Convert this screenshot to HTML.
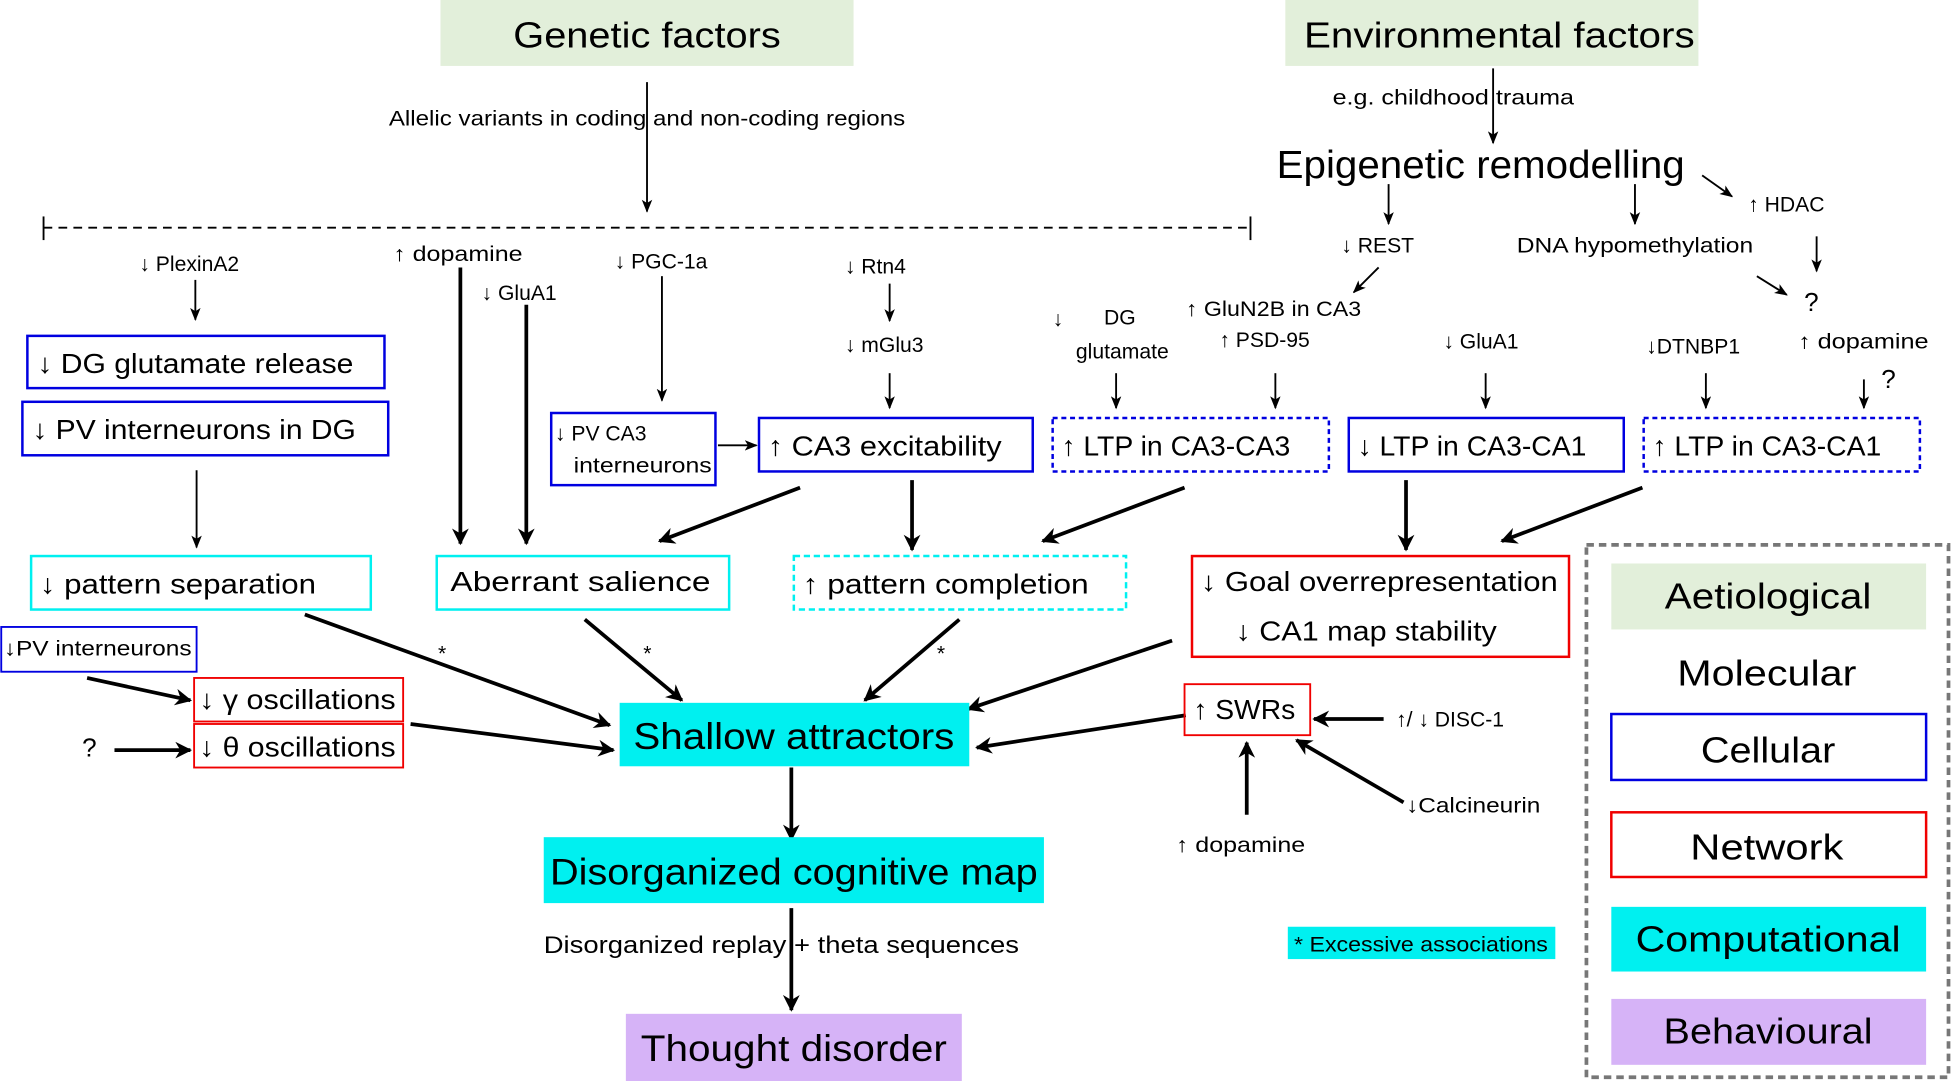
<!DOCTYPE html>
<html><head><meta charset="utf-8"><style>
html,body{margin:0;padding:0;background:#fff;}
svg{display:block;}
text{font-family:"Liberation Sans","DejaVu Sans",sans-serif;fill:#000;}
</style></head><body>
<svg width="1951" height="1081" viewBox="0 0 1568 869" preserveAspectRatio="none" xmlns="http://www.w3.org/2000/svg">
<defs>
<marker id="a" viewBox="0 0 10 10" refX="9" refY="5" markerWidth="7" markerHeight="7" orient="auto" markerUnits="userSpaceOnUse"><path d="M0,0 L10,5 L0,10 Z"/></marker>
<marker id="b" viewBox="0 0 10 10" refX="9" refY="5" markerWidth="7" markerHeight="7" orient="auto"><path d="M0,1 L10,5 L0,9 L2.5,5 Z"/></marker>
<marker id="c" viewBox="0 0 10 10" refX="9" refY="5" markerWidth="4.5" markerHeight="4.5" orient="auto"><path d="M0,0 L10,5 L0,10 L3,5 Z"/></marker>
</defs>
<!-- top boxes -->
<rect x="354" y="0" width="332" height="53" fill="#e2efda"/>
<text x="520" y="38" font-size="29" text-anchor="middle" textLength="215" lengthAdjust="spacingAndGlyphs">Genetic factors</text>
<rect x="1033" y="0" width="332" height="53" fill="#e2efda"/>
<text x="1205" y="38" font-size="29" text-anchor="middle" textLength="314" lengthAdjust="spacingAndGlyphs">Environmental factors</text>
<g stroke="#000" stroke-width="1.5" fill="none">
<line x1="520" y1="66" x2="520" y2="170" marker-end="url(#b)"/>
<line x1="1200" y1="55" x2="1200" y2="115" marker-end="url(#b)"/>
<line x1="35" y1="183" x2="1005" y2="183" stroke-dasharray="7,5"/>
<line x1="35" y1="174" x2="35" y2="193"/><line x1="1005" y1="174" x2="1005" y2="193"/>
<line x1="1116" y1="148" x2="1116" y2="180" marker-end="url(#b)"/>
<line x1="1314" y1="148" x2="1314" y2="180" marker-end="url(#b)"/>
<line x1="1368" y1="141" x2="1392" y2="158" marker-end="url(#b)"/>
<line x1="1460" y1="190" x2="1460" y2="218" marker-end="url(#b)"/>
<line x1="1412" y1="222" x2="1436" y2="237" marker-end="url(#b)"/>
<line x1="1108" y1="215" x2="1088" y2="235" marker-end="url(#b)"/>
<line x1="1498" y1="305" x2="1498" y2="328" marker-end="url(#b)"/>
<line x1="897" y1="300" x2="897" y2="328" marker-end="url(#b)"/>
<line x1="1025" y1="300" x2="1025" y2="328" marker-end="url(#b)"/>
<line x1="1194" y1="300" x2="1194" y2="328" marker-end="url(#b)"/>
<line x1="1371" y1="300" x2="1371" y2="328" marker-end="url(#b)"/>
<line x1="157" y1="225" x2="157" y2="257" marker-end="url(#b)"/>
<line x1="158" y1="378" x2="158" y2="440" marker-end="url(#b)"/>
<line x1="532" y1="222" x2="532" y2="322" marker-end="url(#b)"/>
<line x1="715" y1="228" x2="715" y2="258" marker-end="url(#b)"/>
<line x1="715" y1="300" x2="715" y2="328" marker-end="url(#b)"/>
<line x1="577" y1="358" x2="608" y2="358" marker-end="url(#b)"/>
</g>
<g stroke="#000" stroke-width="3" fill="none">
<line x1="370" y1="215" x2="370" y2="437" marker-end="url(#c)"/>
<line x1="423" y1="245" x2="423" y2="437" marker-end="url(#c)"/>
<line x1="643" y1="392" x2="530" y2="435" marker-end="url(#c)"/>
<line x1="733" y1="386" x2="733" y2="442" marker-end="url(#c)"/>
<line x1="952" y1="392" x2="838" y2="435" marker-end="url(#c)"/>
<line x1="1130" y1="386" x2="1130" y2="442" marker-end="url(#c)"/>
<line x1="1320" y1="392" x2="1207" y2="435" marker-end="url(#c)"/>
<line x1="245" y1="494" x2="490" y2="583" marker-end="url(#c)"/>
<line x1="470" y1="498" x2="548" y2="563" marker-end="url(#c)"/>
<line x1="771" y1="498" x2="695" y2="563" marker-end="url(#c)"/>
<line x1="942" y1="515" x2="778" y2="570" marker-end="url(#c)"/>
<line x1="953" y1="575" x2="785" y2="601" marker-end="url(#c)"/>
<line x1="330" y1="582" x2="493" y2="603" marker-end="url(#c)"/>
<line x1="70" y1="545" x2="153" y2="563" marker-end="url(#c)"/>
<line x1="92" y1="603" x2="153" y2="603" marker-end="url(#c)"/>
<line x1="1112" y1="578" x2="1056" y2="578" marker-end="url(#c)"/>
<line x1="1128" y1="645" x2="1042" y2="595" marker-end="url(#c)"/>
<line x1="1002" y1="655" x2="1002" y2="597" marker-end="url(#c)"/>
<line x1="636" y1="617" x2="636" y2="675" marker-end="url(#c)"/>
<line x1="636" y1="730" x2="636" y2="812" marker-end="url(#c)"/>
</g>
<!-- small texts -->
<g font-size="17">
<text x="520" y="101" text-anchor="middle" textLength="415" lengthAdjust="spacingAndGlyphs">Allelic variants in coding and non-coding regions</text>
<text x="1168" y="84" text-anchor="middle" textLength="194" lengthAdjust="spacingAndGlyphs">e.g.  childhood trauma</text>
<text x="1405" y="170">↑ HDAC</text>
<text x="1450" y="250" font-size="21">?</text>
<text x="1078" y="203">↓ REST</text>
<text x="1314" y="203" text-anchor="middle" textLength="190" lengthAdjust="spacingAndGlyphs">DNA hypomethylation</text>
<text x="953" y="254" textLength="141" lengthAdjust="spacingAndGlyphs">↑ GluN2B in CA3</text>
<text x="980" y="279">↑ PSD-95</text>
<text x="846" y="262">↓</text><text x="900" y="261" text-anchor="middle">DG</text>
<text x="902" y="288" text-anchor="middle">glutamate</text>
<text x="1160" y="280">↓ GluA1</text>
<text x="1323" y="284">↓DTNBP1</text>
<text x="1445" y="280" textLength="105" lengthAdjust="spacingAndGlyphs">↑ dopamine</text>
<text x="1512" y="312" font-size="21">?</text>
<text x="112" y="218">↓ PlexinA2</text>
<text x="316" y="210" textLength="104" lengthAdjust="spacingAndGlyphs">↑ dopamine</text>
<text x="387" y="241">↓ GluA1</text>
<text x="494" y="216">↓ PGC-1a</text>
<text x="679" y="220">↓ Rtn4</text>
<text x="679" y="283">↓ mGlu3</text>
<text x="1122" y="584">↑/ ↓ DISC-1</text>
<text x="1130" y="653" textLength="108" lengthAdjust="spacingAndGlyphs">↓Calcineurin</text>
<text x="945" y="685" textLength="104" lengthAdjust="spacingAndGlyphs">↑ dopamine</text>
<text x="352" y="531">*</text><text x="517" y="531">*</text><text x="753" y="531">*</text>
<text x="66" y="608" font-size="21">?</text>
</g>
<!-- row boxes -->
<g fill="none" stroke="#0000e0" stroke-width="2">
<rect x="22" y="270" width="287" height="42"/>
<rect x="18" y="323" width="294" height="43"/>
<rect x="443" y="332" width="132" height="58"/>
<rect x="610" y="336" width="220" height="43"/>
<rect x="846" y="336" width="222" height="43" stroke-dasharray="4,3"/>
<rect x="1084" y="336" width="221" height="43"/>
<rect x="1321" y="336" width="222" height="43" stroke-dasharray="4,3"/>
<rect x="1" y="504" width="157" height="36" stroke-width="1.5"/>
</g>
<g font-size="22">
<text x="30" y="300" textLength="254" lengthAdjust="spacingAndGlyphs">↓ DG glutamate release</text>
<text x="26" y="353" textLength="260" lengthAdjust="spacingAndGlyphs">↓ PV interneurons in DG</text>
<text x="617" y="366" textLength="188" lengthAdjust="spacingAndGlyphs">↑ CA3 excitability</text>
<text x="853" y="366" textLength="184" lengthAdjust="spacingAndGlyphs">↑ LTP in CA3-CA3</text>
<text x="1091" y="366" textLength="184" lengthAdjust="spacingAndGlyphs">↓ LTP in CA3-CA1</text>
<text x="1328" y="366" textLength="184" lengthAdjust="spacingAndGlyphs">↑ LTP in CA3-CA1</text>
</g>
<text x="446" y="354" font-size="17">↓ PV CA3</text>
<text x="461" y="380" font-size="17" textLength="111" lengthAdjust="spacingAndGlyphs">interneurons</text>
<text x="3" y="527" font-size="17" textLength="151" lengthAdjust="spacingAndGlyphs">↓PV interneurons</text>
<!-- row 3 -->
<g fill="none" stroke-width="2">
<rect x="25" y="447" width="273" height="43" stroke="#00f0f0"/>
<rect x="351" y="447" width="235" height="43" stroke="#00f0f0"/>
<rect x="638" y="447" width="267" height="43" stroke="#00f0f0" stroke-dasharray="5,3"/>
<rect x="958" y="447" width="303" height="81" stroke="#f00000"/>
<rect x="156" y="545" width="168" height="35" stroke="#f00000" stroke-width="1.5"/>
<rect x="156" y="582" width="168" height="35" stroke="#f00000" stroke-width="1.5"/>
<rect x="952" y="550" width="101" height="41" stroke="#f00000" stroke-width="1.5"/>
</g>
<g font-size="22">
<text x="32" y="477" textLength="222" lengthAdjust="spacingAndGlyphs">↓ pattern separation</text>
<text x="362" y="475" textLength="209" lengthAdjust="spacingAndGlyphs">Aberrant salience</text>
<text x="645" y="477" textLength="230" lengthAdjust="spacingAndGlyphs">↑ pattern completion</text>
<text x="965" y="475" textLength="287" lengthAdjust="spacingAndGlyphs">↓ Goal overrepresentation</text>
<text x="993" y="515" textLength="210" lengthAdjust="spacingAndGlyphs">↓ CA1 map stability</text>
<text x="160" y="570" textLength="158" lengthAdjust="spacingAndGlyphs">↓ γ oscillations</text>
<text x="160" y="608" textLength="158" lengthAdjust="spacingAndGlyphs">↓ θ oscillations</text>
<text x="959" y="578" textLength="82" lengthAdjust="spacingAndGlyphs">↑ SWRs</text>
</g>
<!-- computational -->
<rect x="498" y="565" width="281" height="51" fill="#00f0f0"/>
<text x="638" y="602" font-size="30" text-anchor="middle" textLength="258" lengthAdjust="spacingAndGlyphs">Shallow attractors</text>
<rect x="437" y="673" width="402" height="53" fill="#00f0f0"/>
<text x="638" y="711" font-size="30" text-anchor="middle" textLength="392" lengthAdjust="spacingAndGlyphs">Disorganized cognitive map</text>
<text x="628" y="766" font-size="19" text-anchor="middle" textLength="382" lengthAdjust="spacingAndGlyphs">Disorganized replay + theta sequences</text>
<rect x="503" y="815" width="270" height="54" fill="#d6b3f7"/>
<text x="638" y="853" font-size="30" text-anchor="middle" textLength="246" lengthAdjust="spacingAndGlyphs">Thought disorder</text>
<rect x="1035" y="745" width="215" height="26" fill="#00f0f0"/>
<text x="1040" y="765" font-size="17" textLength="204" lengthAdjust="spacingAndGlyphs">* Excessive associations</text>
<!-- legend -->
<rect x="1275" y="438" width="291" height="428" fill="none" stroke="#777" stroke-width="3" stroke-dasharray="6,4"/>
<rect x="1295" y="453" width="253" height="53" fill="#e2efda"/>
<rect x="1295" y="574" width="253" height="53" fill="none" stroke="#0000e0" stroke-width="2"/>
<rect x="1295" y="653" width="253" height="52" fill="none" stroke="#f00000" stroke-width="2"/>
<rect x="1295" y="729" width="253" height="52" fill="#00f0f0"/>
<rect x="1295" y="803" width="253" height="53" fill="#d6b3f7"/>
<g font-size="29" text-anchor="middle">
<text x="1421" y="489" textLength="166" lengthAdjust="spacingAndGlyphs">Aetiological</text>
<text x="1420" y="551" textLength="144" lengthAdjust="spacingAndGlyphs">Molecular</text>
<text x="1421" y="613" textLength="108" lengthAdjust="spacingAndGlyphs">Cellular</text>
<text x="1420" y="691" textLength="123" lengthAdjust="spacingAndGlyphs">Network</text>
<text x="1421" y="765" textLength="213" lengthAdjust="spacingAndGlyphs">Computational</text>
<text x="1421" y="839" textLength="168" lengthAdjust="spacingAndGlyphs">Behavioural</text>
</g>
<text x="1190" y="143" font-size="31" text-anchor="middle" textLength="328" lengthAdjust="spacingAndGlyphs">Epigenetic remodelling</text>
</svg>
</body></html>
